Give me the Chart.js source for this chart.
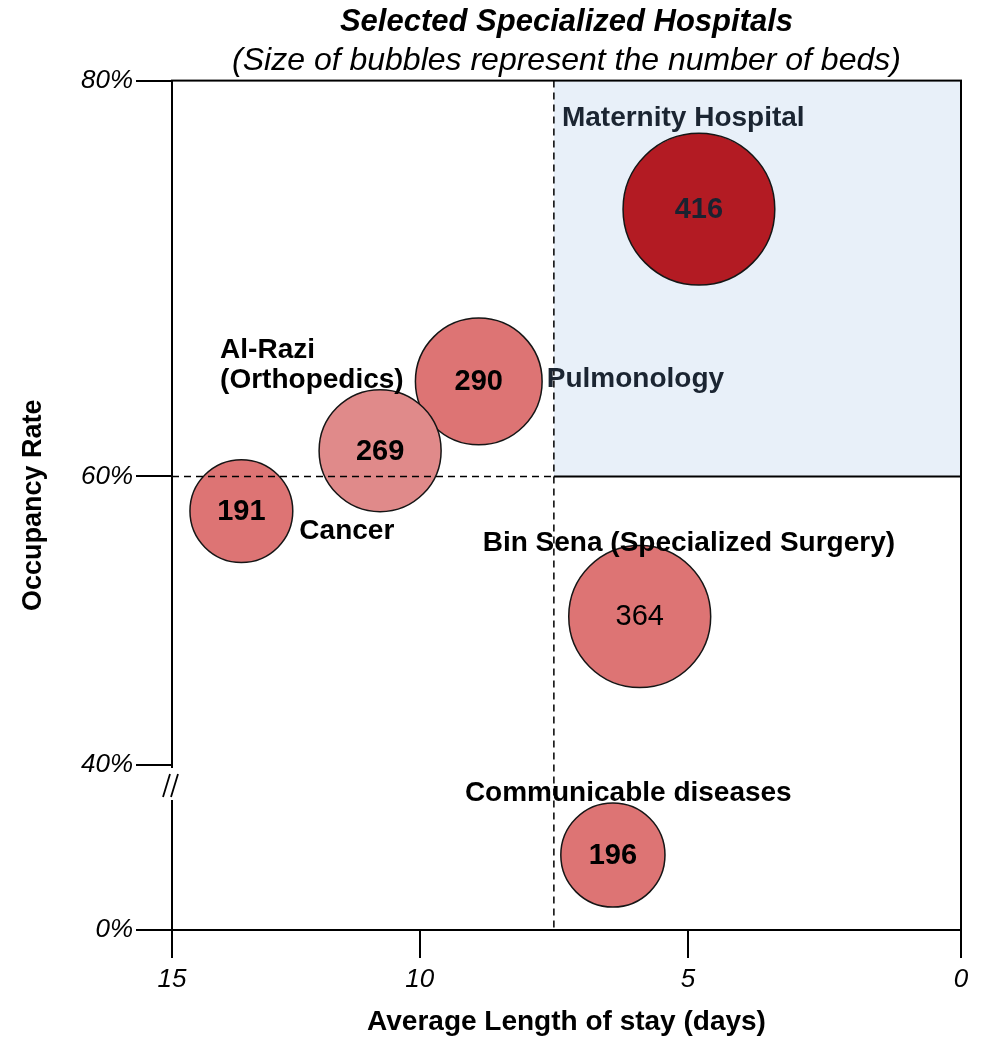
<!DOCTYPE html>
<html>
<head>
<meta charset="utf-8">
<script src="https://cdn.jsdelivr.net/npm/chart.js@4.4.0/dist/chart.umd.min.js"></script>
<style>
  html, body { margin: 0; padding: 0; background: #fff; }
  #wrap { width: 988px; height: 1039px; }
</style>
</head>
<body>
<div id="wrap"><canvas id="bubbleChart"></canvas></div>
<script>
// values
const hospitals = ["Maternity Hospital", "Pulmonology", "Al-Razi\n(Orthopedics)", "Cancer", "Bin Sena (Specialized Surgery)", "Communicable diseases"];
const stayDays = [4.8, 8.9, 10.8, 13.6, 5.9, 6.4];
const occupancy = [73.5, 64.8, 61.3, 57.6, 50.3, 18.2];
const beds = [416, 290, 269, 191, 364, 196];
const xTicks = [15, 10, 5, 0];
const yTicks = [0, 40, 60, 80];
const stayCut = 7.5;
const occupancyCut = 60;

// styles
const bubbleFills = ["#B31B23", "#DD7474", "#E08A8A", "#DD7474", "#DD7474", "#DD7474"];
const numberBold = [true, true, true, true, false, true];
const numberColors = ["#1B2230", "#000", "#000", "#000", "#000", "#000"];
const nameColors = ["#1B2532", "#1B2532", "#000", "#000", "#000", "#000"];
// label offsets from bubble centre: left edge, vertical centre of first line
const nameOffsets = [[-137, -91], [68, -2], [-160, -100], [58, 20], [-157, -73], [-148, -62]];

// the axes of the original are not to scale: value -> share of axis length
const axisStops = {
  x: [[0, 0], [5, 0.346], [10, 0.686], [15, 1]],
  y: [[0, 0], [40, 0.194], [60, 0.534], [80, 1]]
};

class BrokenScale extends Chart.LinearScale {
  getPixelForValue(value) {
    if (value === null || value === undefined || isNaN(value)) return NaN;
    const s = axisStops[this.axis];
    let i = 1;
    while (i < s.length - 1 && value > s[i][0]) i++;
    const a = s[i - 1], b = s[i];
    const dec = a[1] + (value - a[0]) / (b[0] - a[0]) * (b[1] - a[1]);
    return this.getPixelForDecimal(dec);
  }
  getValueForPixel(pixel) {
    const dec = this.getDecimalForPixel(pixel);
    const s = axisStops[this.axis];
    let i = 1;
    while (i < s.length - 1 && dec > s[i][1]) i++;
    const a = s[i - 1], b = s[i];
    return a[0] + (dec - a[1]) / (b[1] - a[1]) * (b[0] - a[0]);
  }
}
BrokenScale.id = "broken";
BrokenScale.defaults = Chart.LinearScale.defaults;
Chart.register(BrokenScale);

Chart.defaults.font.family = "'Liberation Sans', Arial, sans-serif";
Chart.defaults.color = "#000";

const decor = {
  id: "decor",
  beforeDatasetsDraw(chart) {
    const { ctx, chartArea: a, scales } = chart;
    const xc = scales.x.getPixelForValue(stayCut);
    const yc = scales.y.getPixelForValue(occupancyCut);
    ctx.save();
    ctx.fillStyle = "#E8F0F9";
    ctx.fillRect(xc, a.top, a.right - xc, yc - a.top);
    ctx.restore();
  },
  afterDatasetsDraw(chart) {
    const { ctx, chartArea: a, scales } = chart;
    const xc = scales.x.getPixelForValue(stayCut);
    const yc = scales.y.getPixelForValue(occupancyCut);
    ctx.save();
    ctx.strokeStyle = "#000";
    ctx.lineWidth = 1.5;
    ctx.setLineDash([7, 5]);
    ctx.beginPath();
    ctx.moveTo(xc, a.top);
    ctx.lineTo(xc, a.bottom);
    ctx.moveTo(a.left, yc);
    ctx.lineTo(xc, yc);
    ctx.stroke();
    ctx.setLineDash([]);
    ctx.lineWidth = 2;
    ctx.beginPath();
    ctx.moveTo(xc, yc);
    ctx.lineTo(a.right, yc);
    ctx.stroke();
    ctx.strokeRect(a.left, a.top, a.right - a.left, a.bottom - a.top);

    // numbers and names
    const pts = chart.getDatasetMeta(0).data;
    ctx.textBaseline = "middle";
    pts.forEach((p, i) => {
      ctx.font = (numberBold[i] ? "bold " : "") + "29px 'Liberation Sans', Arial, sans-serif";
      ctx.fillStyle = numberColors[i];
      ctx.textAlign = "center";
      ctx.fillText(String(beds[i]), p.x, p.y + 1);

      ctx.font = "bold 28px 'Liberation Sans', Arial, sans-serif";
      ctx.fillStyle = nameColors[i];
      ctx.textAlign = "left";
      hospitals[i].split("\n").forEach((line, k) => {
        ctx.fillText(line, p.x + nameOffsets[i][0], p.y + nameOffsets[i][1] + k * 30);
      });
    });
    ctx.restore();
  },
  afterDraw(chart) {
    // axis break
    const { ctx, chartArea: a } = chart;
    ctx.save();
    ctx.fillStyle = "#fff";
    ctx.fillRect(a.left - 4, 768, 8, 32);
    ctx.strokeStyle = "#000";
    ctx.lineWidth = 1.8;
    ctx.beginPath();
    ctx.moveTo(a.left - 9, 797);
    ctx.lineTo(a.left - 2, 774);
    ctx.moveTo(a.left - 1, 797);
    ctx.lineTo(a.left + 6, 774);
    ctx.stroke();
    ctx.restore();
  }
};

new Chart(document.getElementById("bubbleChart"), {
  type: "bubble",
  data: {
    datasets: [{
      data: stayDays.map((x, i) => ({ x: x, y: occupancy[i] })),
      backgroundColor: bubbleFills,
      borderColor: "#151515",
      borderWidth: 1.5,
      radius: ctx => 3.72 * Math.sqrt(beds[ctx.dataIndex]),
      clip: false
    }]
  },
  options: {
    responsive: true,
    maintainAspectRatio: false,
    animation: false,
    events: [],
    layout: { autoPadding: false, padding: { left: 13, right: 27, top: 0, bottom: 0 } },
    plugins: {
      legend: { display: false },
      tooltip: { enabled: false },
      title: {
        display: true,
        text: "Selected Specialized Hospitals",
        fullSize: false,
        color: "#000",
        font: { size: 31, weight: "bold", style: "italic" },
        padding: { top: 4, bottom: 0 }
      },
      subtitle: {
        display: true,
        text: "(Size of bubbles represent the number of beds)",
        fullSize: false,
        color: "#000",
        font: { size: 32, style: "italic" },
        padding: { top: 1, bottom: 0 }
      }
    },
    scales: {
      x: {
        type: "broken",
        reverse: true,
        min: 0,
        max: 15,
        afterBuildTicks: s => { s.ticks = xTicks.map(v => ({ value: v })); },
        afterFit: s => { s.height = 109; s.paddingLeft = 0; s.paddingRight = 0; },
        ticks: {
          autoSkip: false,
          maxRotation: 0,
          padding: 6,
          color: "#000",
          font: { size: 26, style: "italic" },
          callback: v => String(v)
        },
        grid: { drawOnChartArea: false, tickLength: 28, color: "#000", lineWidth: 2 },
        border: { color: "#000", width: 2 },
        title: {
          display: true,
          text: "Average Length of stay (days)",
          color: "#000",
          font: { size: 28, weight: "bold" },
          padding: { top: 4, bottom: 0 }
        }
      },
      y: {
        type: "broken",
        min: 0,
        max: 80,
        afterBuildTicks: s => { s.ticks = yTicks.map(v => ({ value: v })); },
        afterFit: s => { s.width = 159; },
        ticks: {
          autoSkip: false,
          padding: 3,
          color: "#000",
          font: { size: 26, style: "italic" },
          callback: v => v + "%"
        },
        grid: { drawOnChartArea: false, tickLength: 36, color: "#000", lineWidth: 2 },
        border: { color: "#000", width: 2 },
        title: {
          display: true,
          text: "Occupancy Rate",
          color: "#000",
          font: { size: 27, weight: "bold" },
          padding: { top: 4, bottom: 4 }
        }
      }
    }
  },
  plugins: [decor]
});
</script>
</body>
</html>
